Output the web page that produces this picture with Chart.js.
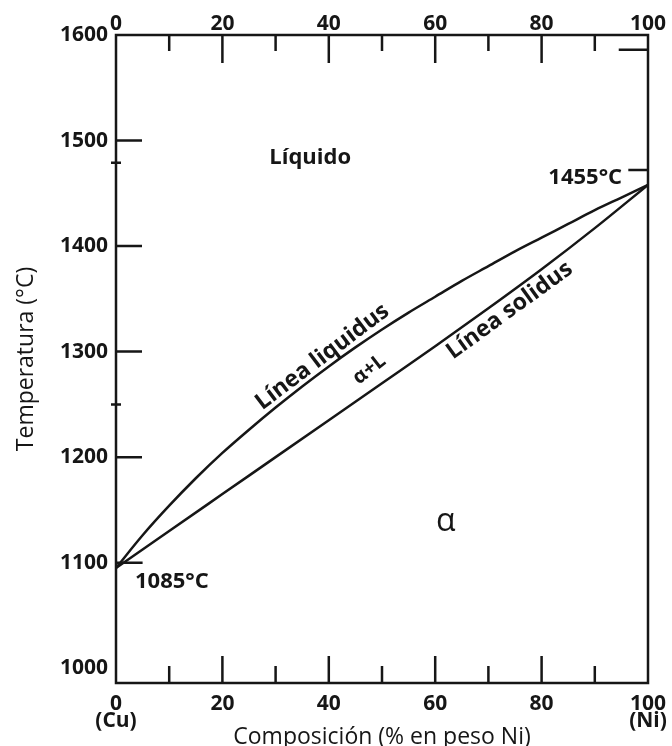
<!DOCTYPE html>
<html>
<head>
<meta charset="utf-8">
<script src="https://cdn.jsdelivr.net/npm/chart.js@4"></script>
<style>
  html, body { margin:0; background:#fff; }
  #wrap { width:672px; height:746px; }
</style>
</head>
<body>
<div id="wrap"><canvas id="c"></canvas></div>
<script>
// Cu-Ni phase diagram (liquidus / solidus)
const INK = "#161616";
const FONT = "'Open Sans', 'DejaVu Sans', sans-serif";

const liqX = [0,5,10,15,20,25,30,35,40,45,50,55,60,65,70,75,80,85,90,95,100];
const liqT = [1095,1126,1154,1180,1204,1226,1247,1267,1286,1304,1321,1337,1352,1367,1381,1395,1408,1421,1434,1446,1458];
const solX = [0,10,20,30,40,50,60,70,80,90,100];
const solT = [1095,1130,1165,1200,1235,1270,1305,1341,1378,1417,1458];

const xTicks = [0,20,40,60,80,100];
const xMinor = [10,20,30,40,50,60,70,80,90];
const yTicks = [1000,1100,1200,1300,1400,1500,1600];
const yInner = [1100,1200,1300,1400,1500];
const yCross = [1250, 1479];

// text placed in data units: [text, x, T, rotation deg, size, weight]
const notes = [
  ["Líquido", 36.5, 1484, 0, 22, 700],
  ["1455°C", 88.2, 1465, 0, 22, 700],
  ["1085°C", 10.5, 1082, 0, 22, 700],
  ["α", 62, 1139, 0, 32, 500],
  ["Línea liquidus", 38.8, 1295, -37, 23, 700],
  ["α+L", 47.6, 1283, -38, 20, 700],
  ["Línea solidus", 74, 1339, -36, 23, 700],
];
// short leader strokes: [x0, x1, T]
const leaders = [[96.3, 100, 1472], [0, 5, 1100], [94.5, 100, 1586]];

const pts = (xs, ys) => xs.map((x, i) => ({x, y: ys[i]}));
const noPad = s => { s.paddingLeft = 0; s.paddingRight = 0; };

const frame = {
  id: "frame",
  afterDatasetsDraw(chart) {
    const {ctx, chartArea: a, scales: {x, y}} = chart;
    ctx.save();
    ctx.strokeStyle = INK;
    ctx.lineWidth = 2.5;
    ctx.strokeRect(a.left, a.top, a.right - a.left, a.bottom - a.top);
    ctx.beginPath();
    for (const v of xMinor) {
      const px = x.getPixelForValue(v);
      ctx.moveTo(px, a.bottom); ctx.lineTo(px, a.bottom - (v % 20 ? 17 : 27));
      ctx.moveTo(px, a.top); ctx.lineTo(px, a.top + (v % 20 ? 16 : 28));
    }
    for (const v of yInner) {
      const py = y.getPixelForValue(v);
      ctx.moveTo(a.left, py); ctx.lineTo(a.left + 26, py);
    }
    for (const v of yCross) {
      const py = y.getPixelForValue(v);
      ctx.moveTo(a.left - 5, py); ctx.lineTo(a.left + 5, py);
    }
    for (const [x0, x1, t] of leaders) {
      const py = y.getPixelForValue(t);
      ctx.moveTo(x.getPixelForValue(x0), py); ctx.lineTo(x.getPixelForValue(x1), py);
    }
    ctx.stroke();

    ctx.fillStyle = INK;
    ctx.textAlign = "center";
    ctx.textBaseline = "middle";
    for (const [txt, vx, vt, rot, size, w] of notes) {
      ctx.save();
      ctx.translate(x.getPixelForValue(vx), y.getPixelForValue(vt));
      ctx.rotate(rot * Math.PI / 180);
      ctx.font = `${w} ${size}px ${FONT}`;
      ctx.fillText(txt, 0, 0);
      ctx.restore();
    }
    ctx.restore();
  }
};

const tickFont = {family: FONT, size: 21, weight: 700, lineHeight: 0.82};
const titleFont = {family: FONT, size: 23, weight: 500};

new Chart(document.getElementById("c"), {
  type: "line",
  data: {
    datasets: [
      {label: "Línea liquidus", data: pts(liqX, liqT), borderColor: INK, borderWidth: 2.5,
       pointRadius: 0, cubicInterpolationMode: "monotone"},
      {label: "Línea solidus", data: pts(solX, solT), borderColor: INK, borderWidth: 2.5,
       pointRadius: 0, cubicInterpolationMode: "monotone"},
    ]
  },
  options: {
    responsive: true, maintainAspectRatio: false, animation: false,
    layout: {padding: {left: 0, right: 24, top: 0, bottom: 0}},
    plugins: {legend: {display: false}, tooltip: {enabled: false}},
    scales: {
      x: {
        type: "linear", position: "bottom", min: 0, max: 100,
        afterBuildTicks: s => { s.ticks = xTicks.map(value => ({value})); },
        afterFit: s => { s.height = 63; noPad(s); },
        grid: {display: false, drawTicks: false}, border: {display: false},
        ticks: {color: INK, font: tickFont, padding: 12, maxRotation: 0, autoSkip: false,
          callback: v => v === 0 ? ["0", "(Cu)"] : v === 100 ? ["100", "(Ni)"] : String(v)},
        title: {display: true, text: "Composición (% en peso Ni)", color: INK, font: titleFont,
          padding: {top: 0, bottom: -5}},
      },
      x2: {
        type: "linear", position: "top", min: 0, max: 100,
        afterBuildTicks: s => { s.ticks = xTicks.map(value => ({value})); },
        afterFit: s => { s.height = 35; noPad(s); },
        grid: {display: false, drawTicks: false}, border: {display: false},
        ticks: {color: INK, font: tickFont, padding: 2, maxRotation: 0, autoSkip: false},
      },
      y: {
        type: "linear", min: 986, max: 1600,
        afterBuildTicks: s => { s.ticks = yTicks.map(value => ({value})); },
        afterFit: s => { s.width = 116; },
        grid: {display: false, drawTicks: false}, border: {display: false},
        ticks: {color: INK, font: tickFont, padding: 8, callback: v => String(v)},
        title: {display: true, text: "Temperatura (°C)", color: INK, font: titleFont,
          padding: {top: 13, bottom: 0}},
      },
    }
  },
  plugins: [frame],
});
</script>
</body>
</html>
